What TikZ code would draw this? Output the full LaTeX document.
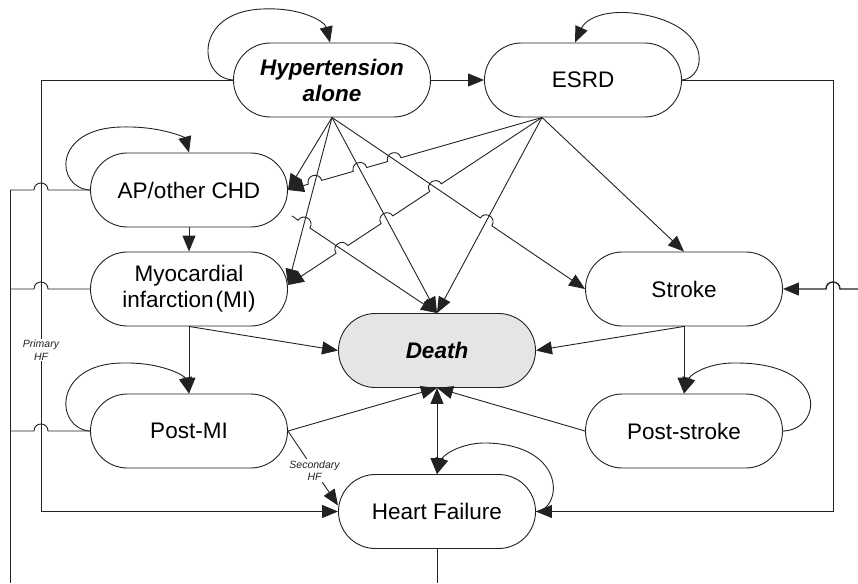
\documentclass[tikz,border=0pt]{standalone}
\usepackage{fontspec}
\setmainfont{Liberation Sans}
\usetikzlibrary{calc,arrows.meta}
\definecolor{ln}{HTML}{222222}
\definecolor{deathfill}{HTML}{E4E5E6}
\newcommand\mkhop[4]{%
  \path ($(#2)!7pt!(#3)$) coordinate (#1s);
  \path ($(#2)!7pt!(#4)$) coordinate (#1e);
  \path ($(#1s)!9.3pt!90:(#1e)$) coordinate (#1a);
  \path ($(#1e)!9.3pt!-90:(#1s)$) coordinate (#1b);
}
\newcommand\hp[1]{-- (#1s) .. controls (#1a) and (#1b) .. (#1e)}
\begin{document}
\begin{tikzpicture}[x=1pt,y=-1pt,
  stadium/.style={draw=ln, line width=0.9pt, rounded corners=36.9pt, minimum width=197pt, minimum height=74pt, inner sep=0pt, align=center, font=\fontsize{22.5}{26}\selectfont, fill=white},
  bi/.style={font=\fontsize{22.5}{26}\selectfont\bfseries\itshape},
  conn/.style={draw=ln, line width=0.9pt},
  arr/.style={conn, -{Triangle[length=16pt,width=13pt]}},
  rarr/.style={conn, {Triangle[length=16pt,width=13pt]}-},
  lbl/.style={font=\fontsize{10.5}{12.5}\selectfont\itshape, fill=white, inner sep=1pt, align=center, text=ln}
]
\useasboundingbox (0,0) rectangle (858,583);

% nodes
\node[stadium,bi] (hyp) at (332,80) {Hypertension\\alone};
\node[stadium] (esrd) at (583,80) {ESRD};
\node[stadium] (ap) at (189,190) {AP/other CHD};
\node[stadium] (mi) at (189,289) {Myocardial\\infarction\kern2pt(MI)};
\node[stadium,bi,fill=deathfill] (death) at (437,350.5) {Death};
\node[stadium] (stroke) at (684,289) {Stroke};
\node[stadium] (postmi) at (189,431) {Post-MI};
\node[stadium] (poststroke) at (684,431) {Post-stroke};
\node[stadium] (hf) at (437,511.5) {Heart Failure};

% key points
\coordinate (H) at (hyp.south);
\coordinate (E0) at ($(esrd.south)+(-41,0)$);
\coordinate (A) at (ap.east);
\coordinate (M) at ($(mi.east)+(0,-4)$);
\coordinate (D) at (death.north);
\coordinate (S) at (stroke.west);
\coordinate (T) at (stroke.north);
\coordinate (P0) at ($(ap.east)+(4,26)$);

% crossings
\coordinate (c1) at (intersection of A--E0 and H--M);
\coordinate (c2) at (intersection of A--E0 and H--D);
\coordinate (c3) at (intersection of A--E0 and H--S);
\coordinate (c4) at (intersection of M--E0 and P0--D);
\coordinate (c5) at (intersection of M--E0 and H--D);
\coordinate (c6) at (intersection of M--E0 and H--S);
\coordinate (c7) at (intersection of P0--D and H--M);
\coordinate (c8) at (intersection of H--S and E0--D);

\mkhop{h1}{c1}{A}{E0}
\mkhop{h2}{c2}{A}{E0}
\mkhop{h3}{c3}{A}{E0}
\mkhop{h4}{c4}{M}{E0}
\mkhop{h5}{c5}{M}{E0}
\mkhop{h6}{c6}{M}{E0}
\mkhop{h7}{c7}{P0}{D}
\mkhop{h8}{c8}{H}{S}
\mkhop{g1}{41,190}{10,190}{ap.west}
\mkhop{g2}{41,289}{10,289}{mi.west}
\mkhop{g3}{41,431}{10,431}{postmi.west}
\mkhop{g4}{833,289}{stroke.east}{858,289}

% fan from Hypertension and ESRD
\draw[arr] (H) -- (A);
\draw[arr] (H) -- (M);
\draw[arr] (H) -- (D);
\draw[arr] (H) \hp{h8} -- (S);
\draw[arr] (E0) -- (D);
\draw[arr] (E0) -- (T);
\draw[rarr] (A) \hp{h1} \hp{h2} \hp{h3} -- (E0);
\draw[rarr] (M) \hp{h4} \hp{h5} \hp{h6} -- (E0);
\draw[arr] (P0) \hp{h7} -- (D);

% straight links
\draw[arr] (hyp.east) -- (esrd.west);
\draw[arr] (ap.south) -- (mi.north);
\draw[arr] (mi.south) -- (postmi.north);
\draw[arr] (stroke.south) -- (poststroke.north);

% into death
\draw[arr] (mi.south) -- (death.west);
\draw[arr] (stroke.south) -- (death.east);
\draw[arr] (postmi.east) -- (death.south);
\draw[arr] (poststroke.west) -- (death.south);
\draw[conn, {Triangle[length=16pt,width=13pt]}-{Triangle[length=16pt,width=13pt]}] (death.south) -- (hf.north);

% heart failure feeds
\draw[arr] (hyp.west) -- (41,80) -- node[lbl,pos=0.626]{Primary\\HF} (41,511.5) -- (hf.west);
\draw[arr] (esrd.east) -- (833,80) -- (833,511.5) -- (hf.east);
\draw[arr] (postmi.east) -- node[lbl,pos=0.53]{Secondary\\HF} ($(hf.west)+(0,-6)$);
\draw[conn] (hf.south) -- (437,583);

% left bus
\draw[conn] (10,190) \hp{g1} -- (ap.west);
\draw[conn] (10,289) \hp{g2} -- (mi.west);
\draw[conn] (10,431) \hp{g3} -- (postmi.west);
\draw[conn] (10,190) -- (10,583);

% incoming to stroke
\draw[conn, line width=1.4pt, {Triangle[length=16pt,width=13pt]}-] (stroke.east) \hp{g4} -- (858,289);

% self loops
\draw[arr] (hyp.west) .. controls (198,78) and (193,12) .. (262,9) .. controls (302,7) and (325,22) .. ($(hyp.north)+(-2,0)$);
\draw[arr] (esrd.east) .. controls (708,78) and (714,22) .. (632,13) .. controls (602,10) and (585,20) .. ($(esrd.north)+(-8,0)$);
\draw[arr] (ap.west) .. controls (55,188) and (52,128) .. (122,127) .. controls (162,126) and (185,138) .. (ap.north);
\draw[arr] (postmi.west) .. controls (55,429) and (52,364) .. (122,363) .. controls (162,362) and (185,376) .. (postmi.north);
\draw[arr] (poststroke.east) .. controls (822,430) and (830,364) .. (738,363) .. controls (708,362) and (690,375) .. (poststroke.north);
\draw[arr] (hf.east) .. controls (562,510) and (568,446) .. (488,443) .. controls (462,442) and (443,455) .. (hf.north);
\end{tikzpicture}
\end{document}
